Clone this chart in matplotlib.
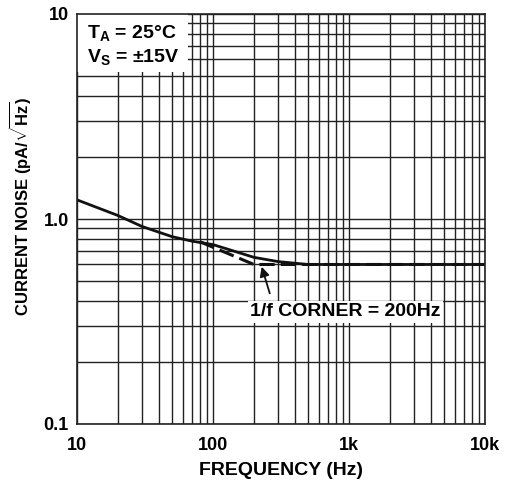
import matplotlib
matplotlib.use("Agg")
import matplotlib.pyplot as plt
from matplotlib.patches import Rectangle
from matplotlib.ticker import FixedLocator, LogLocator, NullFormatter, FixedFormatter

plt.rcParams['font.family'] = ['Liberation Sans', 'DejaVu Sans']
plt.rcParams['font.weight'] = 'bold'
plt.rcParams['mathtext.fontset'] = 'custom'
plt.rcParams['mathtext.rm'] = 'Liberation Sans:bold'
plt.rcParams['mathtext.bf'] = 'Liberation Sans:bold'
plt.rcParams['mathtext.it'] = 'Liberation Sans:bold'

# Data
freq_solid = [10, 20, 30, 50, 70, 100, 150, 200, 300, 500, 1000, 10000]
noise_solid = [1.24, 1.04, 0.92, 0.82, 0.78, 0.75, 0.69, 0.65, 0.62, 0.60, 0.60, 0.60]
freq_dashed = [80, 200, 10000]
noise_dashed = [0.775, 0.60, 0.60]
x_ticks = [10, 100, 1000, 10000]
x_labels = ['10', '100', '1k', '10k']
y_ticks = [0.1, 1.0, 10]
y_labels = ['0.1', '1.0', '10']

fig = plt.figure(figsize=(5.08, 4.84), dpi=100)
ax = fig.add_axes([77/508, 1-424/484, 408/508, 410/484])
ax.set_xscale('log')
ax.set_yscale('log')
ax.set_xlim(10, 10000)
ax.set_ylim(0.1, 10)

ax.xaxis.set_major_locator(FixedLocator(x_ticks))
ax.xaxis.set_major_formatter(FixedFormatter(x_labels))
ax.yaxis.set_major_locator(FixedLocator(y_ticks))
ax.yaxis.set_major_formatter(FixedFormatter(y_labels))
ax.xaxis.set_minor_locator(LogLocator(base=10, subs=range(2, 10)))
ax.yaxis.set_minor_locator(LogLocator(base=10, subs=range(2, 10)))
ax.xaxis.set_minor_formatter(NullFormatter())
ax.yaxis.set_minor_formatter(NullFormatter())
ax.grid(True, which='both', color='#222222', linewidth=1.0)
ax.tick_params(which='both', length=0, labelsize=13, pad=6)
ax.tick_params(axis='x', pad=9)
for sp in ax.spines.values():
    sp.set_linewidth(1.2)
    sp.set_color('#222222')
    sp.set_zorder(6)

ax.plot(freq_solid, noise_solid, color='#111111', linewidth=2.0, zorder=3)
ax.plot(freq_dashed, noise_dashed, color='#111111', linewidth=2.2,
        dashes=(5, 2), zorder=3)

ax.set_xlabel('FREQUENCY (Hz)', fontsize=14, fontweight='bold', labelpad=6)
ax.set_ylabel(r'CURRENT NOISE (pA/$\sqrt{\mathrm{Hz}}$)', fontsize=12,
              fontweight='bold')
ax.yaxis.set_label_coords(-0.108, 0.53)

# white box with conditions
ax.add_patch(Rectangle((0, 1 - 58/410), 111/408, 58/410, transform=ax.transAxes,
                       facecolor='white', edgecolor='none', zorder=4))
ax.text(10/408, 1 - 19/410, 'T$_\\mathrm{A}$ = 25°C', transform=ax.transAxes,
        ha='left', va='center', fontsize=14, fontweight='bold', zorder=5)
ax.text(10/408, 1 - 43/410, 'V$_\\mathrm{S}$ = ±15V', transform=ax.transAxes,
        ha='left', va='center', fontsize=14, fontweight='bold', zorder=5)

ax.annotate('1/f CORNER = 200Hz', xy=(228, 0.585), xytext=(187, 0.352),
            fontsize=14, fontweight='bold', ha='left', va='center',
            bbox=dict(facecolor='white', edgecolor='none', pad=1.5),
            arrowprops=dict(arrowstyle='-|>', color='#111111', lw=1.3,
                            mutation_scale=14, shrinkA=6, shrinkB=0,
                            relpos=(0.12, 1.0)),
            zorder=5)

fig.savefig('out.png', dpi=100)
